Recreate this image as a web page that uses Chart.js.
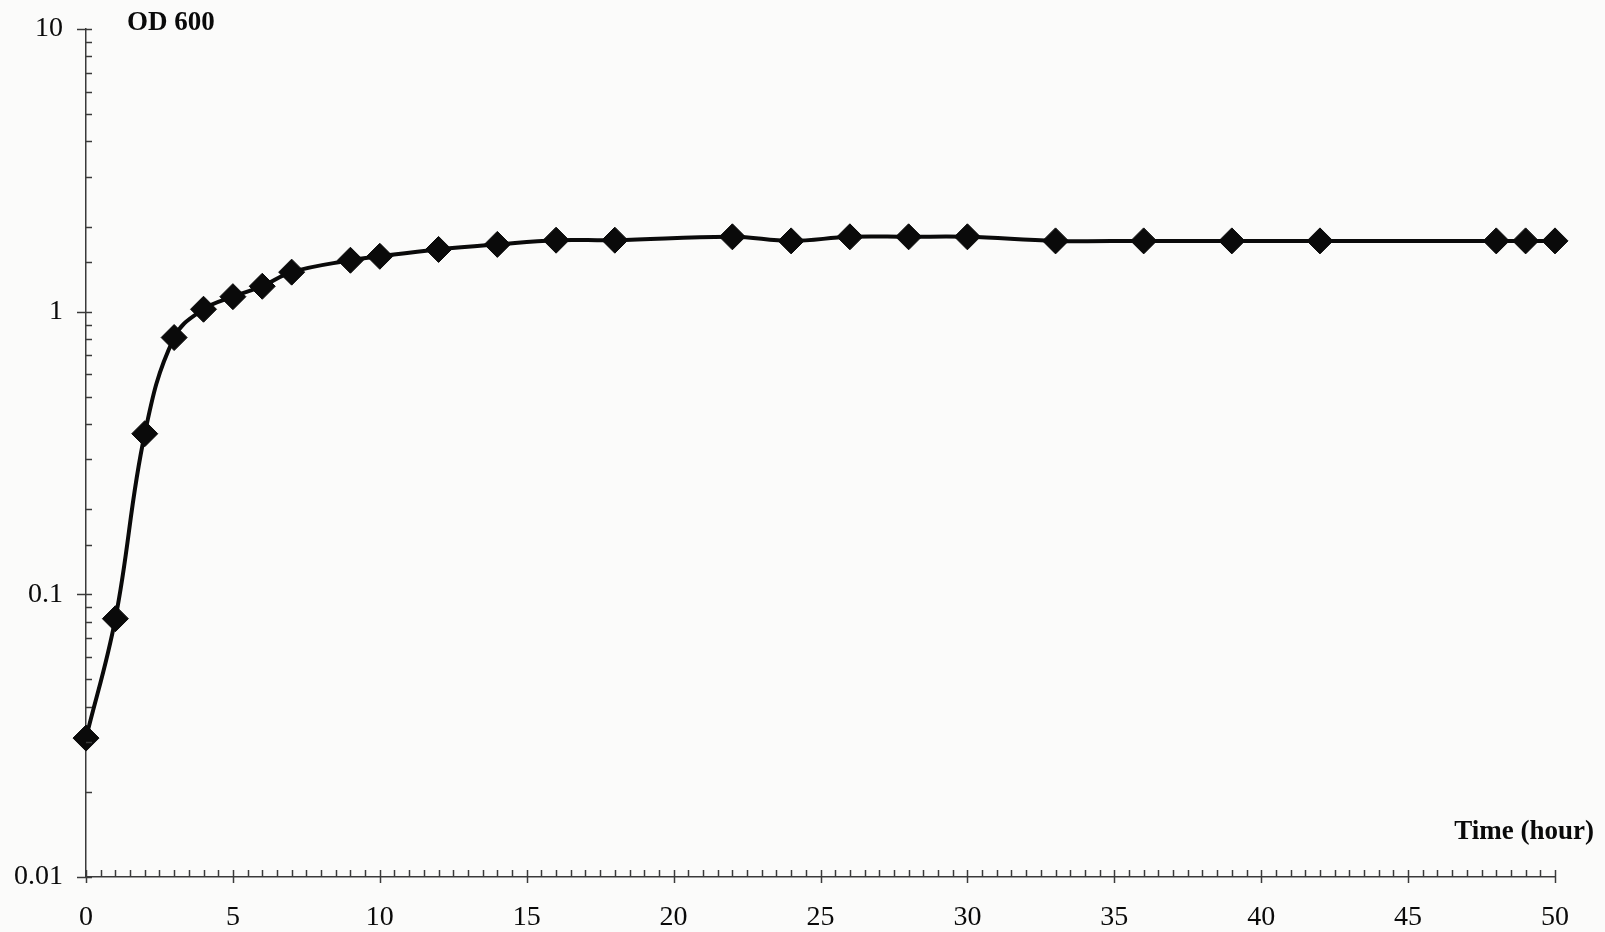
<!DOCTYPE html>
<html>
<head>
<meta charset="utf-8">
<script src="https://cdn.jsdelivr.net/npm/chart.js@4.4.1/dist/chart.umd.min.js"></script>
<style>
  html, body { margin: 0; padding: 0; background: #fbfbfa; }
  #wrap { width: 1605px; height: 932px; position: relative; }
</style>
</head>
<body>
<div id="wrap"><canvas id="c" width="1605" height="932"></canvas></div>
<script>
// Time (hour)
const timeHours = [0, 1, 2, 3, 4, 5, 6, 7, 9, 10, 12, 14, 16, 18, 22, 24, 26, 28, 30, 33, 36, 39, 42, 48, 49, 50];
// OD 600
const od600 = [0.031, 0.082, 0.37, 0.81, 1.02, 1.13, 1.23, 1.38, 1.52, 1.57, 1.66, 1.73, 1.79, 1.79, 1.84, 1.78, 1.84, 1.84, 1.84, 1.78, 1.78, 1.78, 1.78, 1.78, 1.78, 1.78];
const yDecadeLabels = { '-2': '0.01', '-1': '0.1', '0': '1', '1': '10' };
const xTickLabels = [0, 5, 10, 15, 20, 25, 30, 35, 40, 45, 50];
const yAxisTitle = 'OD 600';
const xAxisTitle = 'Time (hour)';

const INK = '#0a0a0a';
const AXIS = '#3a3a3a';
const SERIF = '"Liberation Serif", "Times New Roman", serif';

const points = timeHours.map((t, i) => ({ x: t, y: od600[i] }));

const tickPlugin = {
  id: 'customTicks',
  afterDraw(chart) {
    const ctx = chart.ctx;
    const xs = chart.scales.x, ys = chart.scales.y;
    const ax = ys.right;
    const ay = xs.top;
    ctx.save();
    ctx.strokeStyle = AXIS;
    ctx.lineWidth = 1.5;
    ys.ticks.forEach(tk => {
      const p = Math.round(ys.getPixelForValue(tk.value)) + 0.5;
      const lg = Math.log10(tk.value);
      const isMajor = Math.abs(lg - Math.round(lg)) < 1e-6;
      ctx.beginPath();
      if (isMajor) { ctx.moveTo(ax - 9, p); ctx.lineTo(ax + 6, p); }
      else { ctx.moveTo(ax, p); ctx.lineTo(ax + 6, p); }
      ctx.stroke();
    });
    for (let k = 0; k <= 100; k++) {
      const v = k * 0.5;
      if (v < xs.min || v > xs.max) continue;
      const p = Math.round(xs.getPixelForValue(v)) + 0.5;
      ctx.beginPath();
      if (k % 10 === 0) { ctx.moveTo(p, ay - 7); ctx.lineTo(p, ay + 6); }
      else { ctx.moveTo(p, ay - 7); ctx.lineTo(p, ay); }
      ctx.stroke();
    }
    ctx.fillStyle = INK;
    ctx.font = 'bold 27px ' + SERIF;
    ctx.textBaseline = 'middle';
    ctx.textAlign = 'left';
    ctx.fillText(yAxisTitle, ax + 41, 23);
    ctx.textAlign = 'right';
    ctx.fillText(xAxisTitle, 1594, 832);
    ctx.restore();
  }
};

const bgPlugin = {
  id: 'bg',
  beforeDraw(chart) {
    const ctx = chart.ctx;
    ctx.save();
    ctx.fillStyle = '#fbfbfa';
    ctx.fillRect(0, 0, chart.width, chart.height);
    ctx.restore();
  }
};

new Chart(document.getElementById('c'), {
  type: 'line',
  data: {
    datasets: [{
      data: points,
      borderColor: INK,
      backgroundColor: INK,
      borderWidth: 4,
      tension: 0.4,
      pointStyle: 'rectRot',
      pointRadius: 13,
      pointHoverRadius: 13,
      pointBackgroundColor: INK,
      pointBorderColor: INK,
      pointBorderWidth: 1,
      clip: false,
      fill: false
    }]
  },
  options: {
    responsive: false,
    animation: false,
    events: [],
    layout: { padding: { top: 29, right: 50, left: 0, bottom: 0 } },
    plugins: { legend: { display: false }, tooltip: { enabled: false } },
    scales: {
      x: {
        type: 'linear',
        min: 0, max: 50,
        afterFit(scale) { scale.height = 55; scale.paddingLeft = 0; scale.paddingRight = 0; },
        afterBuildTicks(scale) { scale.ticks = xTickLabels.map(v => ({ value: v })); },
        grid: { display: false, drawTicks: false },
        border: { display: true, color: AXIS, width: 1.5 },
        ticks: {
          color: INK,
          font: { family: SERIF, size: 28 },
          padding: 24,
          maxRotation: 0,
          autoSkip: false,
          callback: v => String(v)
        }
      },
      y: {
        type: 'logarithmic',
        min: 0.01, max: 10,
        afterFit(scale) { scale.width = 86; scale.paddingTop = 0; scale.paddingBottom = 0; },
        grid: { display: false, drawTicks: false },
        border: { display: true, color: AXIS, width: 1.5 },
        ticks: {
          color: INK,
          font: { family: SERIF, size: 28 },
          padding: 23,
          autoSkip: false,
          callback: function (v) {
            const lg = Math.log10(v);
            if (Math.abs(lg - Math.round(lg)) < 1e-6) return yDecadeLabels[String(Math.round(lg))];
            return '';
          }
        }
      }
    }
  },
  plugins: [bgPlugin, tickPlugin]
});
</script>
</body>
</html>
